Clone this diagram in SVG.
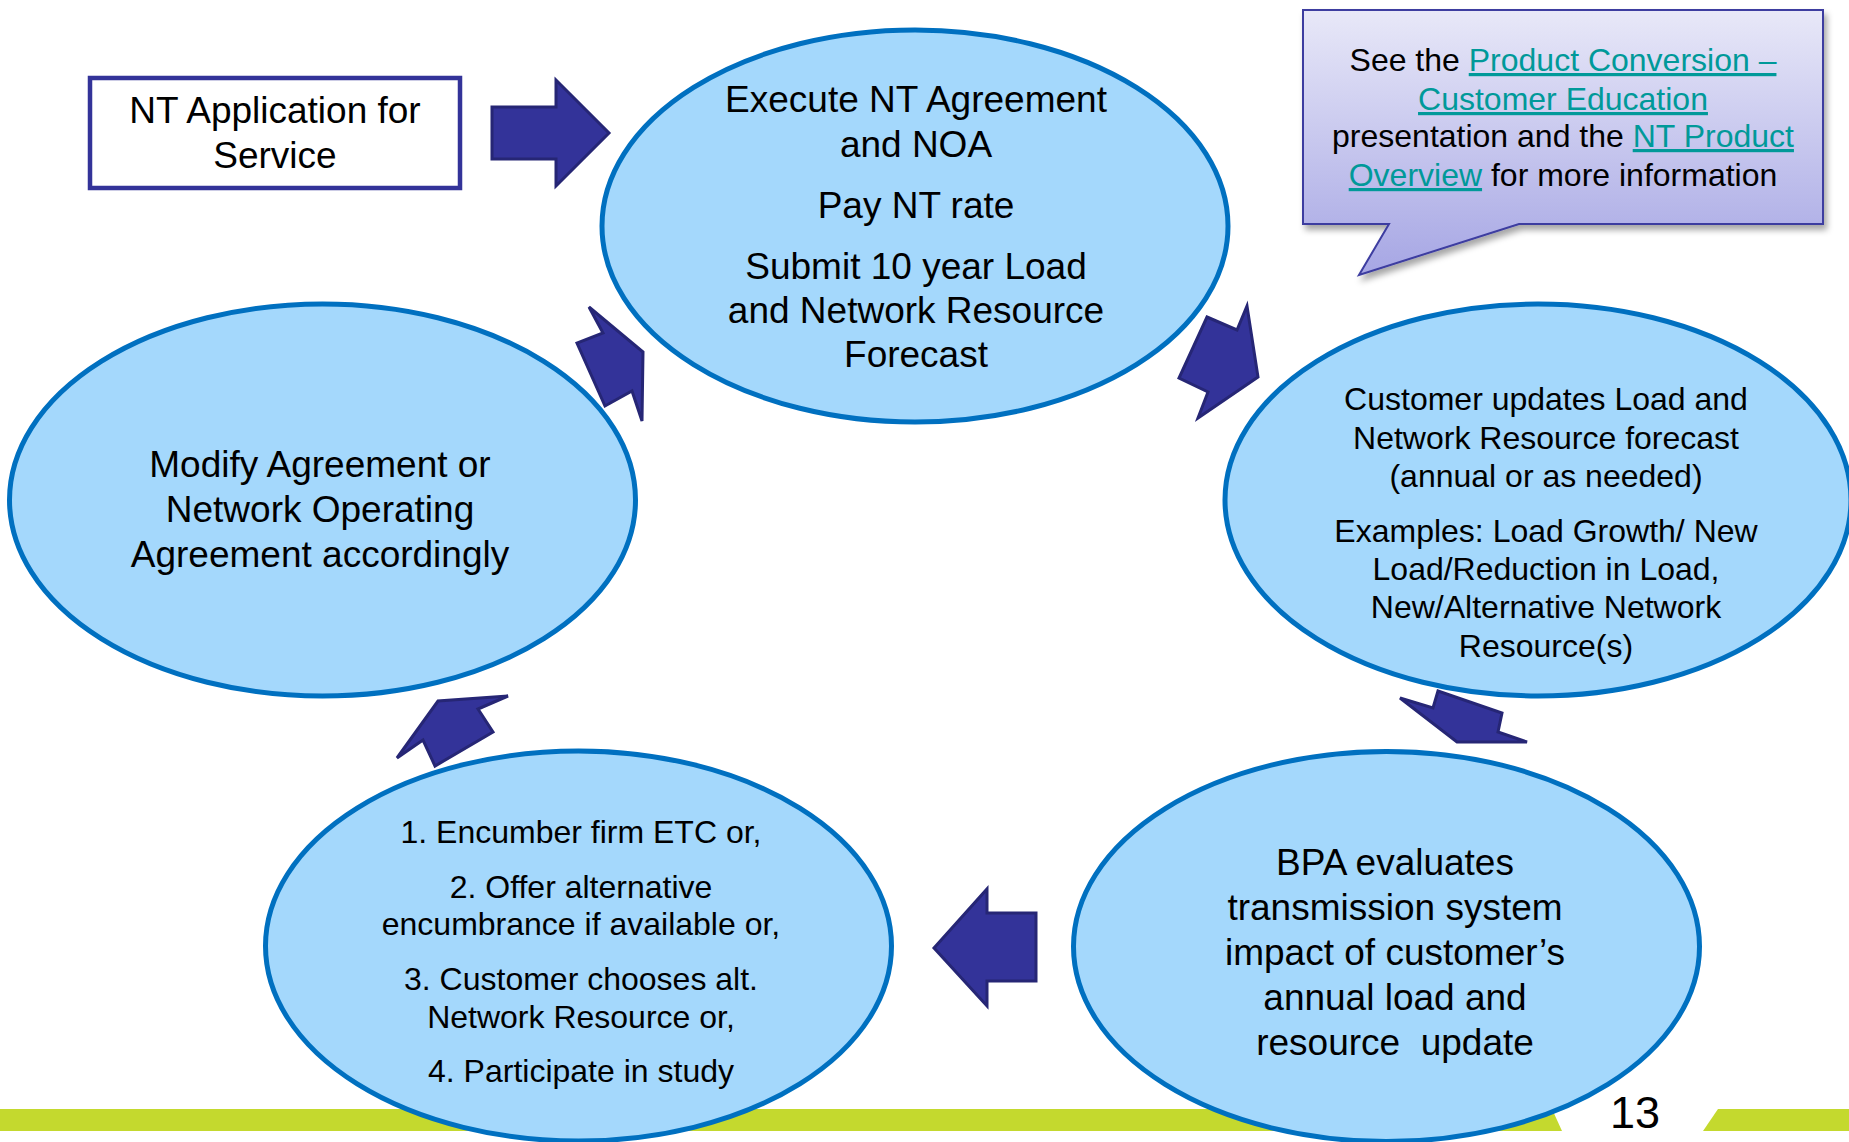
<svg xmlns="http://www.w3.org/2000/svg" width="1849" height="1142" viewBox="0 0 1849 1142">
<defs>
<linearGradient id="cg" x1="0" y1="0" x2="0" y2="1">
<stop offset="0" stop-color="#E8E8F8"/>
<stop offset="1" stop-color="#A6A6E4"/>
</linearGradient>
<filter id="sh" x="-10%" y="-10%" width="125%" height="135%">
<feDropShadow dx="3" dy="5" stdDeviation="3" flood-color="#000" flood-opacity="0.35"/>
</filter>
</defs>
<style>
.ell{fill:#A4D8FC;stroke:#0070C0;stroke-width:5}
.t{font-family:"Liberation Sans",Arial,sans-serif;fill:#000;text-anchor:middle}
.big{font-size:37px}
.sm{font-size:32px}
.lnk{fill:#009999;text-decoration:underline}
.arr{fill:#333399;stroke:#262675;stroke-width:3;stroke-linejoin:miter}
</style>
<rect width="1849" height="1142" fill="#fff"/>
<g id="footer">
<polygon points="0,1109 1552,1109 1562,1131 0,1131" fill="#C4D92E"/>
<polygon points="1718,1109 1849,1109 1849,1131 1703,1131" fill="#C4D92E"/>
</g>
<g id="node-application">
<rect x="90" y="78" width="370" height="110" fill="#fff" stroke="#333399" stroke-width="4.5"/>
<text class="t big" x="275" y="123">NT Application for</text>
<text class="t big" x="275" y="168">Service</text>
</g>
<g id="node-execute">
<ellipse class="ell" cx="915" cy="226" rx="313" ry="196"/>
<text class="t big" x="916" y="112">Execute NT Agreement</text>
<text class="t big" x="916" y="157">and NOA</text>
<text class="t big" x="916" y="218">Pay NT rate</text>
<text class="t big" x="916" y="279">Submit 10 year Load</text>
<text class="t big" x="916" y="323">and Network Resource</text>
<text class="t big" x="916" y="367">Forecast</text>
</g>
<g id="node-callout">
<path d="M1303,10 H1823 V224 H1519 L1359,275 L1389,224 H1303 Z" fill="url(#cg)" stroke="#3C3CA0" stroke-width="2" filter="url(#sh)"/>
<text class="t sm" x="1563" y="71">See the <tspan class="lnk">Product Conversion –</tspan></text>
<text class="t sm lnk" x="1563" y="110">Customer Education</text>
<text class="t sm" x="1563" y="147">presentation and the <tspan class="lnk">NT Product</tspan></text>
<text class="t sm" x="1563" y="186"><tspan class="lnk">Overview</tspan> for more information</text>
</g>
<g id="node-customer-updates">
<ellipse class="ell" cx="1538" cy="500" rx="313" ry="196"/>
<text class="t sm" x="1546" y="410">Customer updates Load and</text>
<text class="t sm" x="1546" y="449">Network Resource forecast</text>
<text class="t sm" x="1546" y="487">(annual or as needed)</text>
<text class="t sm" x="1546" y="542">Examples: Load Growth/ New</text>
<text class="t sm" x="1546" y="580">Load/Reduction in Load,</text>
<text class="t sm" x="1546" y="618">New/Alternative Network</text>
<text class="t sm" x="1546" y="657">Resource(s)</text>
</g>
<g id="node-modify">
<ellipse class="ell" cx="322.5" cy="500" rx="313" ry="196"/>
<text class="t big" x="320" y="477">Modify Agreement or</text>
<text class="t big" x="320" y="522">Network Operating</text>
<text class="t big" x="320" y="567">Agreement accordingly</text>
</g>
<g id="node-options">
<ellipse class="ell" cx="578.5" cy="946" rx="313" ry="195"/>
<text class="t sm" x="581" y="843">1. Encumber firm ETC or,</text>
<text class="t sm" x="581" y="898">2. Offer alternative</text>
<text class="t sm" x="581" y="935">encumbrance if available or,</text>
<text class="t sm" x="581" y="990">3. Customer chooses alt.</text>
<text class="t sm" x="581" y="1028">Network Resource or,</text>
<text class="t sm" x="581" y="1082">4. Participate in study</text>
</g>
<g id="node-bpa">
<ellipse class="ell" cx="1386.5" cy="946.5" rx="313" ry="195"/>
<text class="t big" x="1395" y="875">BPA evaluates</text>
<text class="t big" x="1395" y="920">transmission system</text>
<text class="t big" x="1395" y="965">impact of customer’s</text>
<text class="t big" x="1395" y="1010">annual load and</text>
<text class="t big" x="1395" y="1055" style="white-space:pre">resource  update</text>
</g>
<g id="connectors">
<polygon class="arr" points="492,107 556,107 556,80 609,133 556,186 556,159 492,159"/>
<polygon class="arr" points="1207,317 1237,330 1247,306 1258,377 1198,418 1208,392 1179,378"/>
<polygon class="arr" points="1400,698 1433,708 1438,691 1502,713 1498,732 1527,742 1457,742"/>
<polygon class="arr" points="934,948 987,889 987,913 1036,913 1036,981 987,981 987,1006"/>
<polygon class="arr" points="397,758 438,701 508,696 478,709 493,732 435,766 423,740"/>
<polygon class="arr" points="589,307 603,333 577,343 605,406 632,391 642,421 643,352"/>
</g>
<g id="page-number">
<text x="1635" y="1128" font-family="Liberation Sans, Arial, sans-serif" font-size="45" text-anchor="middle" fill="#000">13</text>
</g>
</svg>
